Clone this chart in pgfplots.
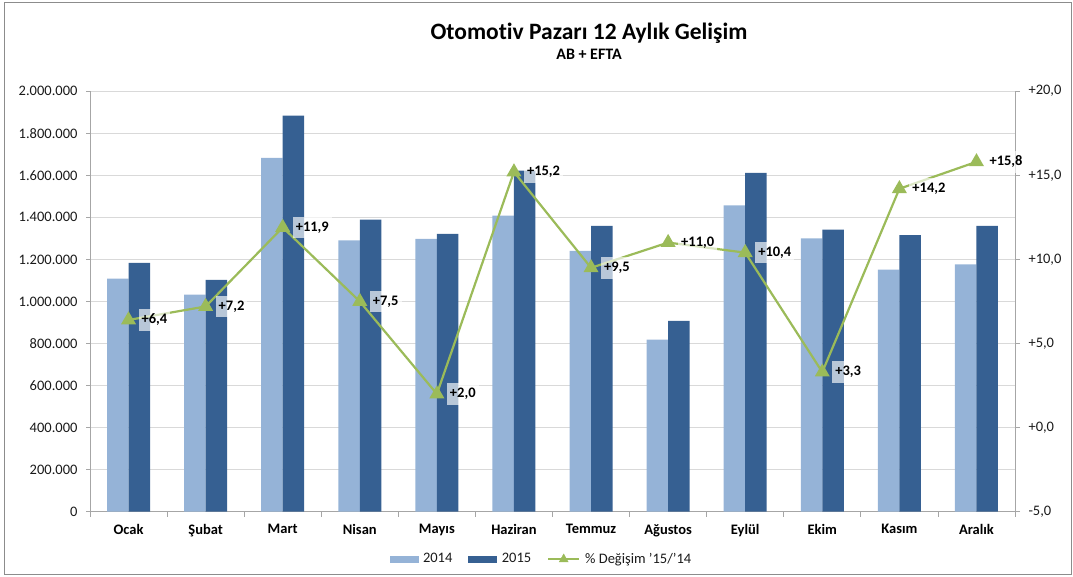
\documentclass[border=0pt]{standalone}
\usepackage{pgfplots}
\pgfplotsset{compat=1.18}
\usepackage{fontspec}
\setmainfont{Carlito}[Ligatures=NoCommon]
\definecolor{cA}{RGB}{149,179,215}
\definecolor{cB}{RGB}{54,96,146}
\definecolor{cG}{RGB}{155,187,89}
\definecolor{gridc}{RGB}{217,217,217}
\definecolor{axl}{RGB}{166,166,166}
\newcommand{\fs}{\fontsize{14.5}{15}\selectfont}
\begin{document}
\begin{tikzpicture}
\path (0pt,0pt) rectangle (1073pt,577pt);
\draw[color=black!45, line width=0.8pt] (4.5pt,3pt) rectangle (1071pt,575pt);
\node[anchor=base, font=\bfseries\fontsize{23.5}{24}\selectfont] at (589pt,537.7pt) {Otomotiv Pazarı 12 Aylık Gelişim};
\node[anchor=base, font=\bfseries\fontsize{16}{17}\selectfont] at (589pt,517pt) {AB + EFTA};
\begin{axis}[
  at={(90pt,65.3pt)}, anchor=south west, scale only axis,
  width=925pt, height=420.5pt,
  ybar=0pt, bar width=21.5pt,
  xmin=-0.5, xmax=11.5, ymin=0, ymax=2000000,
  axis x line*=bottom, axis y line*=left,
  axis line style={axl, line width=0.8pt},
  xtick={0,...,11},
  xticklabels={Ocak,Şubat,Mart,Nisan,Mayıs,Haziran,Temmuz,Ağustos,Eylül,Ekim,Kasım,Aralık},
  major x tick style={draw=none},
  minor xtick={-0.5,0.5,...,11.5},
  minor x tick style={axl, line width=0.8pt},
  minor tick length=5pt,
  ytick={0,200000,...,2000000},
  y tick style={axl, line width=0.8pt},
  tick align=outside, major tick length=4pt,
  ymajorgrids, grid style={gridc, line width=1.1pt},
  scaled y ticks=false,
  ticklabel style={font=\fs, text=black!90},
  yticklabel style={xshift=-5pt, /pgf/number format/.cd, fixed, 1000 sep={.}, assume math mode=true},
  xticklabel style={font=\bfseries\fs, text=black, yshift=-5pt},
]
\addplot[fill=cA, draw=none] coordinates {
(0,1108000) (1,1032000) (2,1683000) (3,1290000) (4,1297000) (5,1408000)
(6,1241000) (7,818000) (8,1457000) (9,1300000) (10,1151000) (11,1176000)};
\addplot[fill=cB, draw=none] coordinates {
(0,1183000) (1,1103000) (2,1884000) (3,1389000) (4,1321000) (5,1622000)
(6,1360000) (7,908000) (8,1611000) (9,1341000) (10,1316000) (11,1360000)};
\end{axis}
\begin{axis}[
  at={(90pt,65.3pt)}, anchor=south west, scale only axis,
  width=925pt, height=420.5pt,
  xmin=-0.5, xmax=11.5, ymin=-5, ymax=20,
  axis x line=none, axis y line*=right,
  axis line style={axl, line width=0.8pt},
  ytick={-5,0,...,20},
  yticklabels={{-5,0},{+0,0},{+5,0},{+10,0},{+15,0},{+20,0}},
  y tick style={axl, line width=0.8pt},
  tick align=outside, major tick length=5pt,
  yticklabel style={font=\fs, text=black!90, xshift=5pt},
  legend style={at={(0.488,-0.1124)}, anchor=center, draw=none, fill=none,
    font=\fs, text=black!90, legend columns=-1,
    /tikz/every odd column/.append style={column sep=3pt},
    /tikz/every even column/.append style={column sep=14pt}},
  legend cell align=left,
]
\addlegendimage{legend image code/.code={\fill[cA] (0pt,-3pt) rectangle (28pt,3pt);}}
\addlegendentry{2014}
\addlegendimage{legend image code/.code={\fill[cB] (0pt,-3pt) rectangle (28pt,3pt);}}
\addlegendentry{2015}
\addlegendimage{legend image code/.code={\draw[cG, line width=2pt] (0pt,0pt) -- (31pt,0pt); \fill[cG] (15.5pt,5pt) -- (11pt,-3pt) -- (20pt,-3pt) -- cycle;}}
\addlegendentry{\% Değişim '15/'14}
\addplot[cG, line width=2.2pt, mark=triangle*, mark size=6.5pt, mark options={solid, fill=cG},
  point meta=explicit symbolic, nodes near coords, forget plot,
  every node near coord/.append style={anchor=west, xshift=9pt, font=\bfseries\fs,
    text=black, fill=white, fill opacity=0.65, text opacity=1, inner xsep=3pt, inner ysep=5pt}]
table[meta=lab] {
x y lab
0 6.4 +6,4
1 7.2 +7,2
2 11.9 +11,9
3 7.5 +7,5
4 2.0 +2,0
5 15.2 +15,2
6 9.5 +9,5
7 11.0 +11,0
8 10.4 +10,4
9 3.3 +3,3
10 14.2 +14,2
11 15.8 +15,8
};
\end{axis}
\end{tikzpicture}
\end{document}
